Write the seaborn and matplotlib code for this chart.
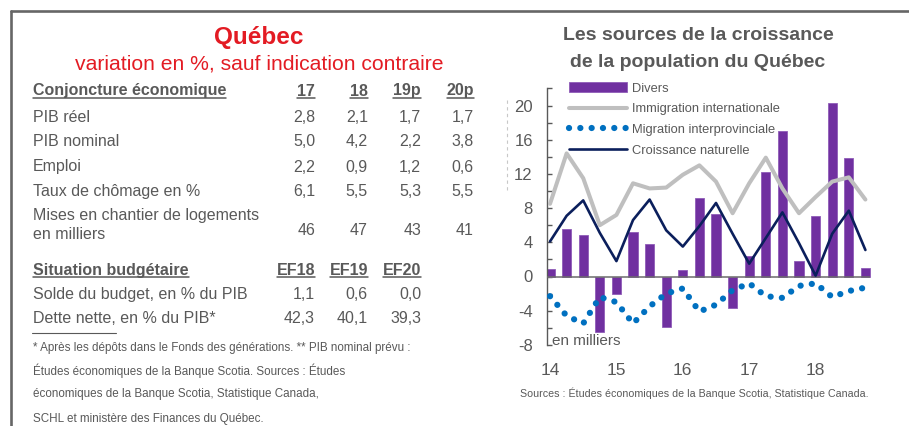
"""
Fiche Québec : tableau de conjoncture + sources de la croissance de la population.
"""

import numpy as np
import pandas as pd
import matplotlib
matplotlib.use("Agg")
import matplotlib.pyplot as plt
import seaborn as sns
from matplotlib.lines import Line2D
from matplotlib.ticker import FixedLocator

# Tableau (gauche)
conj_cols = ["17", "18", "19p", "20p"]
conj_rows = ["PIB réel", "PIB nominal", "Emploi", "Taux de chômage en %",
             "Mises en chantier de logements\nen milliers"]
conj_vals = [["2,8", "2,1", "1,7", "1,7"],
             ["5,0", "4,2", "2,2", "3,8"],
             ["2,2", "0,9", "1,2", "0,6"],
             ["6,1", "5,5", "5,3", "5,5"],
             ["46", "47", "43", "41"]]
budget_cols = ["EF18", "EF19", "EF20"]
budget_rows = ["Solde du budget, en % du PIB", "Dette nette, en % du PIB*"]
budget_vals = [["1,1", "0,6", "0,0"],
               ["42,3", "40,1", "39,3"]]
footnotes = ["* Après les dépôts dans le Fonds des générations. ** PIB nominal prévu :",
             "Études économiques de la Banque Scotia. Sources : Études",
             "économiques de la Banque Scotia, Statistique Canada,",
             "SCHL et ministère des Finances du Québec."]

# Graphique (droite) : milliers de personnes, trimestriel 2014T1 - 2018T4
quarters = [str(p) for p in pd.period_range("2014Q1", "2018Q4", freq="Q")]
divers = [0.9, 5.6, 4.8, -6.5, -2.1, 5.2, 3.8, -5.9, 0.8, 9.2,
          7.3, -3.7, 2.4, 12.2, 17.0, 1.8, 7.1, 20.3, 13.9, 1.0]
immigration = [8.5, 14.4, 11.5, 6.0, 7.2, 10.9, 10.3, 10.4, 11.9, 13.0,
               11.1, 7.4, 10.9, 13.9, 10.3, 7.4, 9.3, 11.1, 11.6, 9.0]
migration = [-2.3, -4.6, -5.5, -2.4, -3.0, -5.5, -3.5, -2.0, -1.4, -4.1,
             -3.3, -1.6, -0.8, -2.3, -2.5, -1.1, -0.8, -2.4, -1.7, -1.3]
naturelle = [4.1, 7.1, 8.9, 5.1, 1.8, 6.6, 9.0, 5.4, 3.5, 5.9,
             8.6, 5.0, 1.5, 4.5, 7.5, 3.9, 0.1, 5.0, 7.7, 3.1]
year_labels = ["14", "15", "16", "17", "18"]

W, H = 909, 426
RED = "#E31B23"
GREY = "#595959"

sns.set_theme(style="white")
plt.rcParams["font.family"] = ["Liberation Sans", "DejaVu Sans"]
plt.rcParams["axes.unicode_minus"] = False


def fx(x):
    return x / W


def fy(y):
    return 1 - y / H


fig = plt.figure(figsize=(W / 100, H / 100), dpi=100)

# cadre (haut + gauche)
fig.add_artist(Line2D([fx(10.5), fx(W)], [fy(11), fy(11)], color="#666666", lw=1.9))
fig.add_artist(Line2D([fx(10.5), fx(10.5)], [fy(11), fy(H)], color="#666666", lw=1.9))
# séparateur pointillé
fig.add_artist(Line2D([fx(507), fx(507)], [fy(100), fy(192)], color="#C8C8C8",
                      lw=0.8, ls=(0, (3, 3))))

# ---------- tableau ----------
fig.text(fx(259), fy(44), "Québec", color=RED, fontsize=17.5, weight="bold",
         ha="center", va="baseline")
fig.text(fx(259), fy(69), "variation en %, sauf indication contraire", color=RED,
         fontsize=15.2, ha="center", va="baseline")

renderer = fig.canvas.get_renderer()


def underlined(x, y, s, ha="left"):
    t = fig.text(fx(x), fy(y), s, color=GREY, fontsize=11.5, weight="bold",
                 ha=ha, va="baseline")
    bb = t.get_window_extent(renderer)
    yy = fy(y + 2)
    fig.add_artist(Line2D([bb.x0 / W, bb.x1 / W], [yy, yy], color=GREY, lw=1.1))


LX = 33
col_right = [315, 368, 421, 474]

underlined(LX, 95.5, "Conjoncture économique")
for cx, c in zip(col_right, conj_cols):
    underlined(cx, 95.5, c, ha="right")

row_base = [121.8, 146.5, 171.5, 196.5, 235]
for i, (lab, vals) in enumerate(zip(conj_rows, conj_vals)):
    if "\n" in lab:
        l1, l2 = lab.split("\n")
        fig.text(fx(LX), fy(220), l1, color=GREY, fontsize=11.5, va="baseline")
        fig.text(fx(LX), fy(239.5), l2, color=GREY, fontsize=11.5, va="baseline")
    else:
        fig.text(fx(LX), fy(row_base[i]), lab, color=GREY, fontsize=11.5, va="baseline")
    for cx, v in zip(col_right, vals):
        fig.text(fx(cx), fy(row_base[i]), v, color=GREY, fontsize=11.5,
                 ha="right", va="baseline")

underlined(LX, 275, "Situation budgétaire")
for cx, c in zip(col_right, budget_cols):
    underlined(cx, 275, c, ha="right")
for yb, lab, vals in zip([299, 323.3], budget_rows, budget_vals):
    fig.text(fx(LX), fy(yb), lab, color=GREY, fontsize=11.5, va="baseline")
    for cx, v in zip(col_right, vals):
        fig.text(fx(cx), fy(yb), v, color=GREY, fontsize=11.5, ha="right", va="baseline")

fig.add_artist(Line2D([fx(32), fx(116)], [fy(333), fy(333)], color=GREY, lw=0.8))
for yb, s in zip([350.5, 375, 397, 422], footnotes):
    fig.text(fx(LX), fy(yb), s, color=GREY, fontsize=8.4, va="baseline")

# ---------- graphique ----------
fig.text(fx(698), fy(40), "Les sources de la croissance", color=GREY, fontsize=14,
         weight="bold", ha="center", va="baseline")
fig.text(fx(698), fy(67), "de la population du Québec", color=GREY, fontsize=14,
         weight="bold", ha="center", va="baseline")

ax = fig.add_axes([fx(546.7), fy(344.9), (873.7 - 546.7) / W, (344.9 - 88.4) / H])
ax.patch.set_alpha(0)

pos = np.arange(len(quarters))
sns.barplot(x=quarters, y=divers, color="#7030A0", width=0.55, saturation=1,
            edgecolor="#8F5CB8", linewidth=0.6, label="Divers", ax=ax, zorder=2)
ax.hlines(0, -0.2, 19.3, color="#6B6B6B", lw=1.1, zorder=3)
sns.lineplot(x=pos, y=immigration, color="#BFBFBF", lw=2.9,
             label="Immigration internationale", ax=ax, zorder=4)
sns.lineplot(x=pos, y=migration, color="#0070C0", lw=4.5,
             linestyle=(0, (0.01, 1.8)), dash_capstyle="round",
             label="Migration interprovinciale", ax=ax, zorder=5)
sns.lineplot(x=pos, y=naturelle, color="#0B1F5C", lw=1.9,
             label="Croissance naturelle", ax=ax, zorder=6)

ax.set_xlim(-0.2, 19.5)
ax.set_ylim(-8, 22)
ax.set_xticks(pos[::4])
ax.set_xticklabels(year_labels)
ax.yaxis.set_major_locator(FixedLocator(np.arange(-8, 21, 4)))
ax.yaxis.set_minor_locator(FixedLocator(np.arange(-6, 23, 4)))
ax.tick_params(axis="y", which="both", direction="in", length=3.6, width=1,
               color=GREY, left=True, labelsize=12, labelcolor=GREY, pad=10)
ax.tick_params(axis="x", length=0, labelsize=12.5, labelcolor=GREY, pad=13)
for s in ["top", "right", "bottom"]:
    ax.spines[s].set_visible(False)
ax.spines["left"].set_color(GREY)
ax.spines["left"].set_linewidth(1)
ax.set_xlabel("")
ax.set_ylabel("")
ax.text(0.015, -8, "en milliers", color=GREY, fontsize=11,
        transform=ax.get_yaxis_transform(), va="baseline", ha="left")

handles, labels = ax.get_legend_handles_labels()
order = [labels.index(k) for k in ["Divers", "Immigration internationale",
                                   "Migration interprovinciale", "Croissance naturelle"]]
ax.legend([handles[i] for i in order], [labels[i] for i in order],
          loc="upper left", bbox_to_anchor=(fx(569), fy(82)),
          bbox_transform=fig.transFigure, frameon=False, borderpad=0,
          borderaxespad=0, handlelength=4.5, handletextpad=0.4,
          handleheight=0.85, labelspacing=0.63, prop={"size": 9.3},
          labelcolor=GREY)

fig.text(fx(694), fy(397), "Sources : Études économiques de la Banque Scotia, Statistique Canada.",
         color=GREY, fontsize=7.7, ha="center", va="baseline")

fig.savefig("out.png", dpi=100)
